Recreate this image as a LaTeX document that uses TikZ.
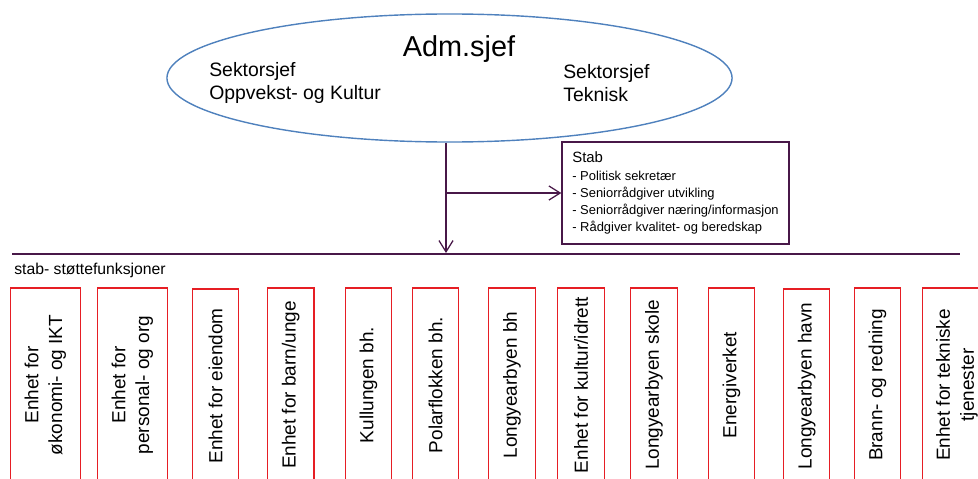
\documentclass[tikz,border=0pt]{standalone}
\usepackage{fontspec}
\setmainfont{Liberation Sans}
\usetikzlibrary{shapes.geometric,arrows.meta}
\definecolor{ovalblue}{RGB}{79,129,189}
\definecolor{orgline}{RGB}{72,24,72}
\definecolor{unitred}{RGB}{230,30,36}
\tikzset{
>={Straight Barb[length=8pt,width=10pt]},
  chief/.style={
    ellipse,
    draw=ovalblue, line width=1pt,
    minimum width=14.125cm,
    minimum height=3.2cm,
    inner sep=0pt},
  sektor/.style={
    anchor=north west,
    align=left,
    inner sep=0pt,
    font=\fontsize{13.8}{16.5}\selectfont},
  stabbox/.style={
    rectangle,
    draw=orgline, line width=0.9pt,
    minimum width=5.675cm,
    minimum height=2.55cm,
    align=left,
    font=\fontsize{9.2}{12.2}\selectfont},
  link/.style={draw=orgline, line width=0.9pt},
  bus/.style={draw=orgline, line width=1.2pt},
  unit/.style={
    rectangle,
    rotate=90,
    draw=unitred, line width=0.8pt,
    minimum width=4.85cm,
    align=center,
    font=\fontsize{13.5}{17}\selectfont},
  narrow/.style={unit, minimum height=1.16cm},
  wide/.style={unit, minimum height=1.74cm},
}
\begin{document}
\begin{tikzpicture}[x=0.025cm, y=-0.025cm]

	\useasboundingbox (0,0) rectangle (978,479);
	\clip (0,0) rectangle (978,479);

	% ledelse
	\node[chief] (adm) at (449.5,78) {};
	\node[anchor=base, inner sep=0pt, font=\fontsize{20.5}{24}\selectfont] (admtxt) at (459,57) {Adm.sjef};
	\node[sektor] (sOK) at (209,62) {Sektorsjef\\Oppvekst- og Kultur};
	\node[sektor] (sTek) at (563,64) {Sektorsjef\\Teknisk};

	\node[stabbox] (stab) at (675.5,193) {{\fontsize{10.6}{13}\selectfont Stab}\\[0.5pt]
		- Politisk sekretær\\
		- Seniorrådgiver utvikling\\
		- Seniorrådgiver næring/informasjon\\
		- Rådgiver kvalitet- og beredskap};

	\coordinate (busL) at (12,254);
	\coordinate (busR) at (960,254);
	\coordinate (drop) at (446,253);
	\draw[bus] (busL) -- (busR);
	\draw[link,->] (adm.south -| drop) -- (drop);
	\draw[link,->] (stab.west -| drop) -- (stab.west);

	\node[anchor=base west, inner sep=0pt, font=\fontsize{11.2}{13}\selectfont] (stoette) at (14,274.5) {stab- støttefunksjoner};

	% enheter
	\node[wide] (u1) at (45.3,385) {Enhet for\\økonomi- og IKT};
	\node[wide] (u2) at (132.3,385) {Enhet for\\personal- og org};
	\node[narrow] (u3) at (215.7,386) {Enhet for eiendom};
	\node[narrow] (u4) at (290.8,385) {Enhet for barn/unge};
	\node[narrow] (u5) at (368.5,385) {Kullungen bh.};
	\node[narrow] (u6) at (435.5,385) {Polarflokken bh.};
	\node[narrow] (u7) at (512,385) {Longyearbyen bh};
	\node[narrow] (u8) at (581,385) {Enhet for kultur/idrett};
	\node[narrow] (u9) at (654,385) {Longyearbyen skole};
	\node[narrow] (u10) at (731.5,385) {Energiverket};
	\node[narrow] (u11) at (806.7,386) {Longyearbyen havn};
	\node[narrow] (u12) at (877.5,385) {Brann- og redning};
	\node[wide] (u13) at (957,385) {Enhet for tekniske\\tjenester};

\end{tikzpicture}
\end{document}
